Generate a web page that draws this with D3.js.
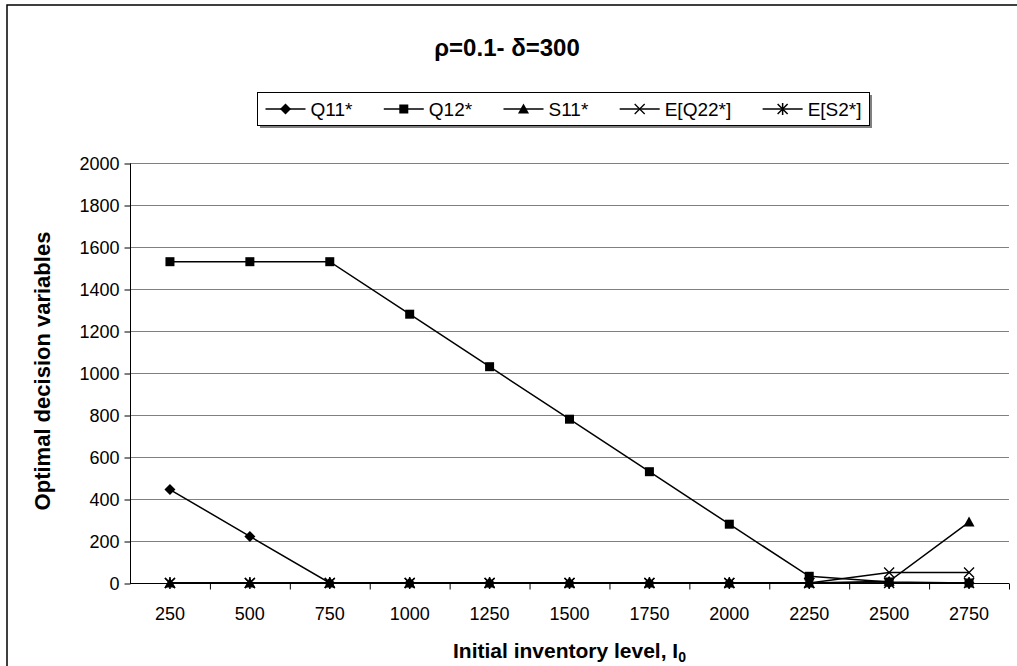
<!DOCTYPE html>
<meta charset="utf-8">
<style>
    body { margin: 0; background: #fff; }
    text { font-family: "Liberation Sans", Arial, sans-serif; fill: #000; }
    .grid line { stroke: #808080; stroke-width: 1px; }
    .axis path, .axis line { stroke: #000; }
    .axis text { font-size: 18px; font-family: "Liberation Sans", Arial, sans-serif; }
</style>
<body>
<svg width="1017" height="666"></svg>
<script src="https://d3js.org/d3.v7.min.js"></script>
<script>

    // x categories (initial inventory level)
    var levels = [250, 500, 750, 1000, 1250, 1500, 1750, 2000, 2250, 2500, 2750];

    // series
    var q11 = [445, 222, 0, 0, 0, 0, 0, 0, 0, 0, 0];
    var q12 = [1530, 1530, 1530, 1280, 1030, 780, 530, 280, 32, 5, 0];
    var s11 = [0, 0, 0, 0, 0, 0, 0, 0, 0, 8, 290];
    var eq22 = [0, 0, 0, 0, 0, 0, 0, 0, 0, 50, 50];
    var es2 = [0, 0, 0, 0, 0, 0, 0, 0, 0, 0, 0];

    var yTicks = [0, 200, 400, 600, 800, 1000, 1200, 1400, 1600, 1800, 2000];

    var series = [
        {name: "Q11*", values: q11, marker: "diamond"},
        {name: "Q12*", values: q12, marker: "square"},
        {name: "S11*", values: s11, marker: "triangle"},
        {name: "E[Q22*]", values: eq22, marker: "cross"},
        {name: "E[S2*]", values: es2, marker: "star"}
    ];

    var svg = d3.select("svg");
    var margin = {left: 130, right: 1009, top: 163, bottom: 583};

    // outer frame of the chart
    svg.append("rect")
        .attr("x", 7).attr("y", 5)
        .attr("width", 1030).attr("height", 700)
        .attr("fill", "none").attr("stroke", "#000").attr("stroke-width", 1.5);

    var x = d3.scaleBand().domain(levels).range([margin.left, margin.right]);
    var y = d3.scaleLinear().domain([0, 2000]).range([margin.bottom, margin.top]);

    // gridlines
    svg.append("g").attr("class", "grid")
        .selectAll("line").data(yTicks.slice(1)).enter().append("line")
        .attr("x1", margin.left).attr("x2", margin.right)
        .attr("y1", function (d) { return y(d) + 0.5; })
        .attr("y2", function (d) { return y(d) + 0.5; });

    // y axis
    var yAxis = svg.append("g").attr("class", "axis")
        .attr("transform", "translate(" + (margin.left + 0.5) + ",0.5)")
        .call(d3.axisLeft(y).tickValues(yTicks).tickFormat(d3.format("d"))
            .tickSize(6).tickPadding(5).tickSizeOuter(0));
    yAxis.select(".domain").attr("d", "M0," + margin.top + "V" + margin.bottom);

    // x axis, ticks between categories
    var xAxis = svg.append("g").attr("class", "axis")
        .attr("transform", "translate(0," + (margin.bottom + 0.5) + ")")
        .call(d3.axisBottom(x).tickSize(0).tickPadding(24).tickSizeOuter(0));
    xAxis.select(".domain").attr("d", "M" + margin.left + ",0H" + margin.right);
    xAxis.selectAll(".sep").data(levels).enter().append("line")
        .attr("class", "sep")
        .attr("x1", function (d) { return x(d) + x.bandwidth() + 0.5; })
        .attr("x2", function (d) { return x(d) + x.bandwidth() + 0.5; })
        .attr("y1", 0).attr("y2", 6)
        .attr("stroke", "#000");

    function cx(i) { return x(levels[i]) + x.bandwidth() / 2; }

    function drawMarker(g, type, px, py) {
        if (type === "diamond") {
            g.append("path").attr("d", "M" + px + "," + (py - 5.5) + "L" + (px + 5.5) + "," + py +
                "L" + px + "," + (py + 5.5) + "L" + (px - 5.5) + "," + py + "Z").attr("fill", "#000");
        } else if (type === "square") {
            g.append("rect").attr("x", px - 4.5).attr("y", py - 4.5)
                .attr("width", 9).attr("height", 9).attr("fill", "#000");
        } else if (type === "triangle") {
            g.append("path").attr("d", "M" + px + "," + (py - 5.5) + "L" + (px + 5.5) + "," + (py + 4.5) +
                "L" + (px - 5.5) + "," + (py + 4.5) + "Z").attr("fill", "#000");
        } else if (type === "cross") {
            g.append("path").attr("d", "M" + (px - 5) + "," + (py - 5) + "L" + (px + 5) + "," + (py + 5) +
                "M" + (px + 5) + "," + (py - 5) + "L" + (px - 5) + "," + (py + 5))
                .attr("stroke", "#000").attr("stroke-width", 1.3);
        } else {
            g.append("path").attr("d", "M" + (px - 5) + "," + (py - 5) + "L" + (px + 5) + "," + (py + 5) +
                "M" + (px + 5) + "," + (py - 5) + "L" + (px - 5) + "," + (py + 5) +
                "M" + px + "," + (py - 6) + "L" + px + "," + (py + 6))
                .attr("stroke", "#000").attr("stroke-width", 1.5);
        }
    }

    var line = d3.line()
        .x(function (d, i) { return cx(i); })
        .y(function (d) { return y(d); });

    series.forEach(function (s) {
        var g = svg.append("g");
        g.append("path").datum(s.values)
            .attr("d", line)
            .attr("fill", "none").attr("stroke", "#000").attr("stroke-width", 1.5);
        s.values.forEach(function (v, i) {
            drawMarker(g, s.marker, cx(i), y(v));
        });
    });

    // title
    svg.append("text")
        .attr("x", 507).attr("y", 56)
        .attr("text-anchor", "middle")
        .style("font-size", "24px").style("font-weight", "bold")
        .text("ρ=0.1- δ=300");

    // axis titles
    svg.append("text")
        .attr("transform", "translate(50," + ((margin.top + margin.bottom) / 2 - 2) + ") rotate(-90)")
        .attr("text-anchor", "middle")
        .style("font-size", "22px").style("font-weight", "bold")
        .text("Optimal decision variables");

    var xt = svg.append("text")
        .attr("x", (margin.left + margin.right) / 2).attr("y", 658)
        .attr("text-anchor", "middle")
        .style("font-size", "21px").style("font-weight", "bold");
    xt.append("tspan").text("Initial inventory level, I");
    xt.append("tspan").attr("dy", 4).style("font-size", "14px").text("0");

    // legend: entries spread across a fixed box
    var bx = 257.5, by = 92.5, bw = 612, bh = 33, ly = 109;
    var lg = svg.append("g");
    lg.append("rect").attr("x", bx + 2.5).attr("y", by + 2.5).attr("width", bw).attr("height", bh).attr("fill", "#808080");
    lg.append("rect").attr("x", bx).attr("y", by).attr("width", bw).attr("height", bh)
        .attr("fill", "#fff").attr("stroke", "#000").attr("stroke-width", 1);
    var lineLen = 40, textGap = 5;
    var items = series.map(function (s) {
        var g = lg.append("g");
        g.append("line").attr("x1", 0).attr("x2", lineLen).attr("y1", ly).attr("y2", ly)
            .attr("stroke", "#000").attr("stroke-width", 1.5);
        drawMarker(g, s.marker, lineLen / 2, ly);
        var t = g.append("text").attr("x", lineLen + textGap).attr("y", ly + 6.5)
            .style("font-size", "19px").text(s.name);
        return {g: g, w: lineLen + textGap + t.node().getComputedTextLength()};
    });
    var pad = 8;
    var used = d3.sum(items, function (d) { return d.w; });
    var gap = (bw - 2 * pad - used) / (items.length - 1);
    var pos = bx + pad;
    items.forEach(function (it) {
        it.g.attr("transform", "translate(" + pos + ",0)");
        pos += it.w + gap;
    });

</script>
</body>
